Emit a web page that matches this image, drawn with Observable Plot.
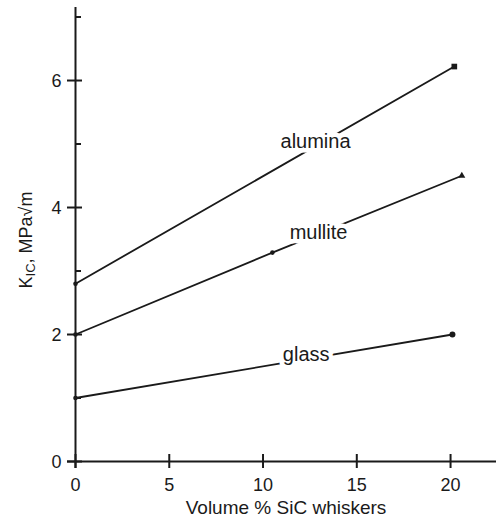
<!DOCTYPE html>
<html><head><meta charset="utf-8">
<script src="https://cdn.jsdelivr.net/npm/d3@7"></script>
<script src="https://cdn.jsdelivr.net/npm/@observablehq/plot@0.6"></script>
<style>body{margin:0;background:#fff} svg{display:block}</style>
</head><body><div id="chart"></div>
<script>
const seriesNames = ["alumina", "mullite", "glass"];
const aluminaX = [0, 20.2];
const aluminaY = [2.8, 6.22];
const mulliteX = [0, 10.5, 20.6];
const mulliteY = [2.0, 3.29, 4.5];
const glassX = [0, 20.1];
const glassY = [1.0, 2.0];
const labelX = [12.8, 12.96, 12.3];
const labelY = [5.04, 3.6, 1.68];
const xTicks = [0, 5, 10, 15, 20];
const yTicks = [0, 2, 4, 6];
const yMinorTicks = [1, 3, 5, 7];
const xTitle = "Volume % SiC whiskers";

const seriesX = [aluminaX, mulliteX, glassX];
const seriesY = [aluminaY, mulliteY, glassY];
const points = [];
seriesNames.forEach((s, k) => seriesX[k].forEach((x, i) => points.push({series: s, x, y: seriesY[k][i], i, n: seriesX[k].length})));
const labels = seriesNames.map((s, k) => ({series: s, x: labelX[k], y: labelY[k]}));

const ink = "#1a1a1a";
const plot = Plot.plot({
  width: 496, height: 525,
  marginLeft: 75, marginRight: 0, marginTop: 7, marginBottom: 64,
  x: {domain: [0, 22.45], axis: null},
  y: {domain: [0, 7.15], axis: null},
  style: {fontFamily: "'Liberation Sans', Arial, sans-serif", fontSize: "18px", color: ink, background: "#fff"},
  marks: [
    Plot.line(points, {x: "x", y: "y", z: "series", stroke: ink, strokeWidth: 1.8}),
    Plot.dot(points.filter(d => d.i === 0), {x: "x", y: "y", r: 2.3, fill: ink, stroke: null}),
    Plot.dot(points.filter(d => d.series === "alumina" && d.i === d.n - 1), {x: "x", y: "y", symbol: "square", r: 3.2, fill: ink, stroke: null}),
    Plot.dot(points.filter(d => d.series === "mullite" && d.i === 1), {x: "x", y: "y", r: 2.3, fill: ink, stroke: null}),
    Plot.dot(points.filter(d => d.series === "mullite" && d.i === d.n - 1), {x: "x", y: "y", symbol: "triangle", r: 2.6, fill: ink, stroke: null}),
    Plot.dot(points.filter(d => d.series === "glass" && d.i === d.n - 1), {x: "x", y: "y", r: 3, fill: ink, stroke: null}),
    Plot.text(labels, {x: "x", y: "y", text: "series", fontSize: 20, fill: ink, stroke: "white", strokeWidth: 9}),
    Plot.ruleX([0], {stroke: ink, strokeWidth: 2, insetBottom: -7}),
    Plot.ruleY([0], {stroke: ink, strokeWidth: 2, insetLeft: -8}),
    Plot.ruleY(yTicks, {y: d => d, x1: 0, x2: 0, insetLeft: -8, insetRight: -7, stroke: ink, strokeWidth: 2}),
    Plot.ruleY(yMinorTicks, {y: d => d, x1: 0, x2: 0, insetLeft: 0, insetRight: -6, stroke: ink, strokeWidth: 2}),
    Plot.ruleX(xTicks, {x: d => d, y1: 0, y2: 0, insetTop: -7, insetBottom: -7, stroke: ink, strokeWidth: 2}),
    Plot.text(yTicks, {x: 0, y: d => d, text: d => String(d), textAnchor: "end", dx: -14, dy: 1, fontSize: 18, fill: ink}),
    Plot.text(xTicks, {x: d => d, y: 0, text: d => String(d), dy: 24, fontSize: 18, fill: ink}),
    Plot.text([xTitle], {frameAnchor: "bottom", text: d => d, dy: 52, fontSize: 19, fill: ink})
  ]
});

const t = d3.select(plot).append("text")
  .attr("transform", "translate(32,240) rotate(-90)")
  .attr("text-anchor", "middle")
  .attr("font-size", 18)
  .attr("fill", ink);
t.append("tspan").text("K");
t.append("tspan").attr("font-size", 13).attr("dy", 3).text("IC");
t.append("tspan").attr("dy", -3).text(", MPa\u221Am");

document.getElementById("chart").appendChild(plot);
</script>
</body></html>
